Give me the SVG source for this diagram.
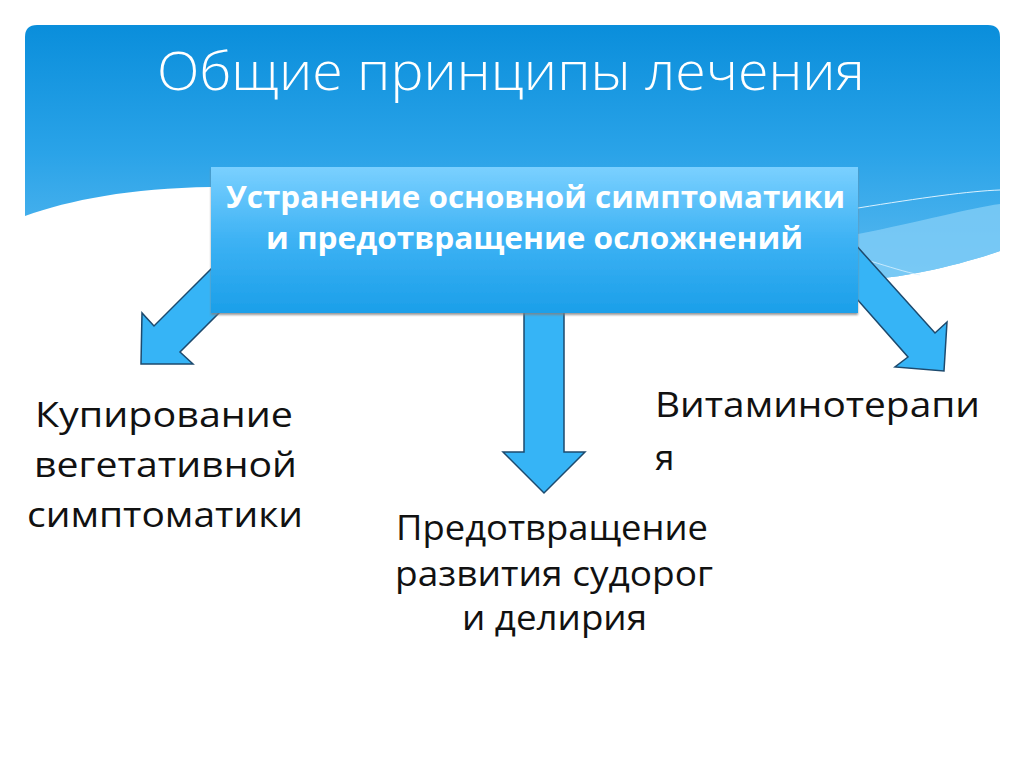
<svg xmlns="http://www.w3.org/2000/svg" width="1024" height="768" viewBox="0 0 1024 768">
  <defs>
    <linearGradient id="bannerGrad" x1="0" y1="25" x2="0" y2="280" gradientUnits="userSpaceOnUse">
      <stop offset="0" stop-color="#0a8edb"/>
      <stop offset="0.5" stop-color="#2aa3e8"/>
      <stop offset="1" stop-color="#5bbaf0"/>
    </linearGradient>
    <linearGradient id="boxGrad" x1="0" y1="0" x2="0" y2="1">
      <stop offset="0" stop-color="#7ad0ff"/>
      <stop offset="0.5" stop-color="#3db2f4"/>
      <stop offset="1" stop-color="#1b9fe9"/>
    </linearGradient>
    <filter id="shadow" x="-5%" y="-5%" width="110%" height="115%">
      <feDropShadow dx="0" dy="2" stdDeviation="1" flood-color="#808080" flood-opacity="0.8"/>
    </filter>
  </defs>
  <style>
    .arrow { fill: #36b4f6; stroke: #1d4a6e; stroke-width: 1.5; stroke-linejoin: miter; }
    .title { font-family: "Open Sans", "Noto Sans", sans-serif; font-size: 54px; font-weight: 300; fill: #ffffff; }
    .boxtext { font-family: "Open Sans", "Noto Sans", sans-serif; font-size: 30px; font-weight: 700; fill: #ffffff; }
    .label { font-family: "Open Sans", "Noto Sans", sans-serif; font-size: 35px; fill: #111111; }
  </style>
  <rect width="1024" height="768" fill="#ffffff"/>

  <!-- banner -->
  <g id="banner">
    <path d="M25,37 Q25,25 37,25 H988 Q1000,25 1000,37 V251 C960,265 900,279 858,280 L600,240 L211,187 C130,188 70,200 25,216 Z" fill="url(#bannerGrad)"/>
    <path d="M858,234 C920,222 970,208 1000,204 V251 C960,265 900,279 858,280 Z" fill="#7ecbf6" opacity="0.85"/>
    <path d="M858,208 C920,198 970,191 1000,190" fill="none" stroke="#d9f1ff" stroke-width="1"/>
    <path d="M870,261 C890,267 905,272 920,275" fill="none" stroke="#d9f1ff" stroke-width="1" opacity="0.8"/>
  </g>

  <g id="title">
    <text class="title" x="157" y="90" textLength="708" lengthAdjust="spacingAndGlyphs">Общие принципы лечения</text>
  </g>

  <!-- connectors -->
  <g id="connectors">
    <polygon class="arrow" points="141,364 142,313 154,326 224,256 250,282 180,352 193,364"/>
    <polygon class="arrow" points="524,300 564,300 564,452 585,452 544,493 503,452 524,452"/>
    <polygon class="arrow" points="944,371 947,322 935,333 836,223 841,281 908,357 895,367"/>
  </g>

  <g id="node-main">
    <rect x="211" y="167" width="647" height="146" fill="url(#boxGrad)" filter="url(#shadow)"/>
    <text class="boxtext" x="226" y="208" textLength="619" lengthAdjust="spacingAndGlyphs">Устранение основной симптоматики</text>
    <text class="boxtext" x="266" y="249" textLength="537" lengthAdjust="spacingAndGlyphs">и предотвращение осложнений</text>
  </g>

  <g id="node-left">
    <text class="label" x="35" y="427" textLength="258" lengthAdjust="spacingAndGlyphs">Купирование</text>
    <text class="label" x="34" y="477" textLength="263" lengthAdjust="spacingAndGlyphs">вегетативной</text>
    <text class="label" x="27" y="527" textLength="276" lengthAdjust="spacingAndGlyphs">симптоматики</text>
  </g>

  <g id="node-center">
    <text class="label" x="396" y="540" textLength="312" lengthAdjust="spacingAndGlyphs">Предотвращение</text>
    <text class="label" x="395" y="586" textLength="318" lengthAdjust="spacingAndGlyphs">развития судорог</text>
    <text class="label" x="462" y="630" textLength="185" lengthAdjust="spacingAndGlyphs">и делирия</text>
  </g>

  <g id="node-right">
    <text class="label" x="655" y="417" textLength="325" lengthAdjust="spacingAndGlyphs">Витаминотерапи</text>
    <text class="label" x="655" y="470">я</text>
  </g>
</svg>
